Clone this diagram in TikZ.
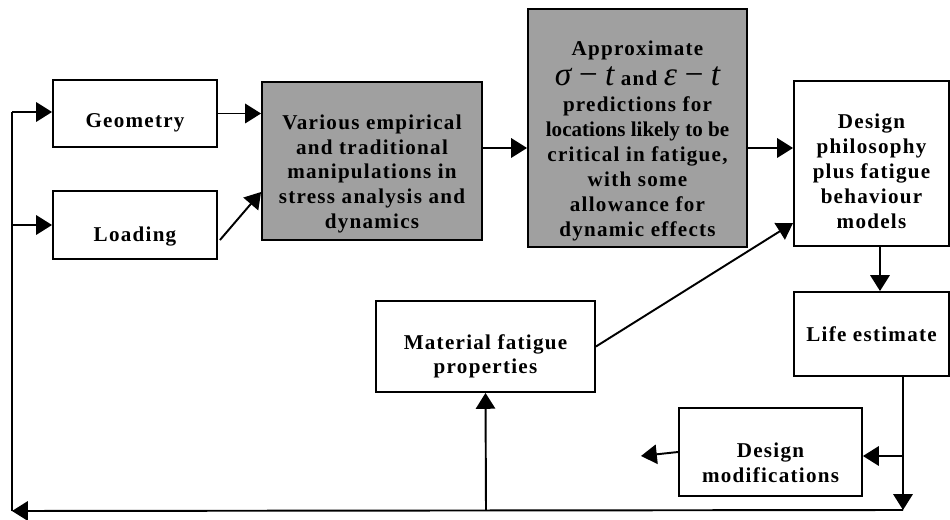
\documentclass[tikz,border=0pt]{standalone}
\usepackage{fontspec}
\setmainfont{Liberation Serif}
\newfontfamily\wideserif[LetterSpace=6]{Liberation Serif}
\usepackage{tikz}
\usetikzlibrary{arrows.meta, calc}

\definecolor{boxgray}{RGB}{160,160,160}
% box text, lowered a little below the middle of the box
\newcommand{\lowtext}[2]{\raisebox{-#1}[0pt][0pt]{\begin{tabular}{@{}c@{}}#2\end{tabular}}}
\newcommand{\curve}[1]{{\fontsize{19}{19}\selectfont\mdseries\itshape #1\,−\,t}}

\begin{document}
\begin{tikzpicture}[x=0.02cm,y=-0.02cm,->,>={Triangle[length=9pt,width=11pt]},line width=1.1pt,
		every edge/.style={draw,line width=1.1pt}]
		\tikzstyle{block}=[draw,inner sep=1pt,font=\fontsize{12}{14.2}\selectfont\wideserif\bfseries]
		\tikzstyle{grey block}=[block,fill=boxgray]

		\useasboundingbox (0,0) rectangle (950,520);

		\node[block,minimum width=3.28cm,minimum height=1.34cm] (geo) at (135,113.5) {\lowtext{8.4pt}{Geometry}};
		\node[block,minimum width=3.28cm,minimum height=1.36cm] (load) at (135,225) {\lowtext{9.8pt}{Loading}};
		\node[grey block,minimum width=4.40cm,minimum height=3.16cm] (manip) at (372,161)
			{\lowtext{10.4pt}{Various empirical\\and traditional\\manipulations in\\stress analysis and\\dynamics}};
		\node[grey block,minimum width=4.38cm,minimum height=4.76cm] (approx) at (637.5,128)
			{\lowtext{10.4pt}{Approximate\\[2pt]
			 \curve{σ}\ and \curve{ε}\\[1pt]
			 predictions for\\{\rmfamily\bfseries locations likely to be}\\critical in fatigue,\\with some\\allowance for\\dynamic effects}};
		\node[block,minimum width=3.10cm,minimum height=3.30cm] (philo) at (871.5,163.5)
			{\lowtext{8.7pt}{Design\\philosophy\\plus fatigue\\behaviour\\models}};
		\node[block,minimum width=3.10cm,minimum height=1.68cm] (life) at (871.5,334) {\lowtext{4.7pt}{Life estimate}};
		\node[block,minimum width=4.38cm,minimum height=1.82cm] (mat) at (485.5,346.5)
			{\lowtext{8.7pt}{Material fatigue\\properties}};
		\node[block,minimum width=3.66cm,minimum height=1.76cm] (mods) at (770.5,452)
			{\lowtext{10.4pt}{Design\\modifications}};

		% feedback loop
		\coordinate (drop) at (903,376);
		\coordinate (bend) at (903,510);
		\coordinate (back) at (12,511);
		\coordinate (top) at (12,112);
		\coordinate (split) at (903,456);
		\coordinate (tee) at (486,510);
		\coordinate (out) at (641,456);

		\path (geo.east) edge (geo.east -| manip.west)
			 ($(load.east)+(2,15)$) edge (manip.west |- 0,192)
			 (manip.east |- 0,148) edge (approx.west |- 0,148)
			 (approx.east |- 0,148) edge (philo.west |- 0,148)
			 (mat.east) edge (philo.west |- 0,223)
			 (philo.south -| 880,0) edge (life.north -| 880,0)
			 (split) edge (mods.east |- split)
			 (mods.west) edge (out)
			 (tee) edge (mat.south);

		\draw (drop) -- (bend);
		\draw (bend) -- (back);
		\draw[-] (back) -- (top);
		\draw (top) -- (geo.west |- top);
		\draw (load.west -| back) -- (load.west);

	\end{tikzpicture}
\end{document}
